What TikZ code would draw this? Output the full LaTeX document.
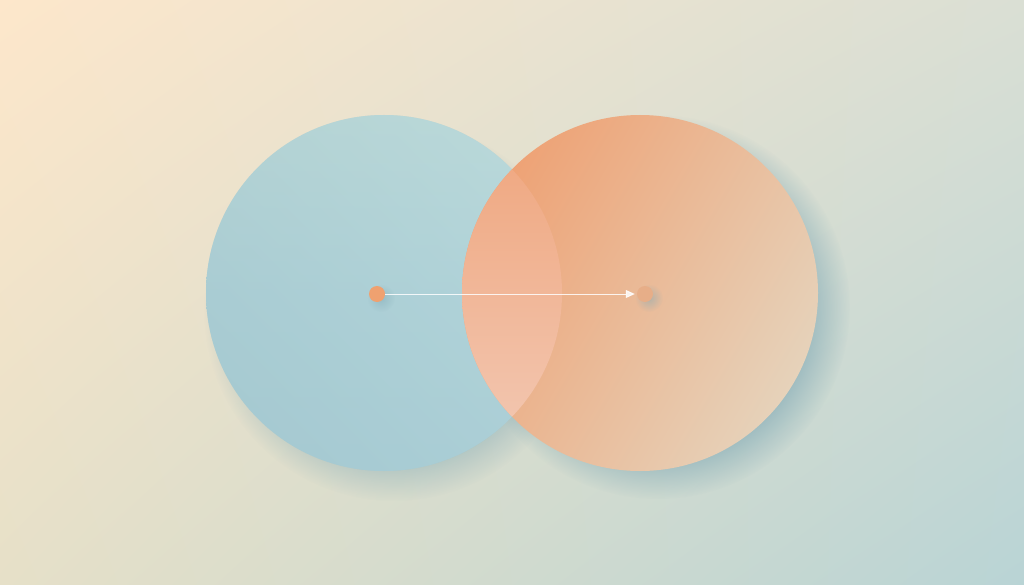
\documentclass[tikz,border=0pt]{standalone}
\usetikzlibrary{arrows.meta,fadings,shadings}

\definecolor{bgtl}{HTML}{FDE7CB}
\definecolor{bgtr}{HTML}{DADFD4}
\definecolor{bgbl}{HTML}{E6E0C8}
\definecolor{bgbr}{HTML}{B9D4D5}
\definecolor{bluetop}{HTML}{B6D0CB}
\definecolor{bluebot}{HTML}{A6CAD2}
\definecolor{bluelit}{HTML}{BDE0E6}
\definecolor{orgtop}{HTML}{EEA275}
\definecolor{orgbot}{HTML}{E6D2BA}
\definecolor{lenstop}{HTML}{EFA47B}
\definecolor{lensbot}{HTML}{F3CAB6}
\definecolor{shadowc}{HTML}{82AAB6}
\definecolor{dotsrc}{HTML}{EFA170}
\definecolor{dotdst}{HTML}{E7AE88}

\tikzfading[name=softdot, inner color=transparent!0, outer color=transparent!100]

\begin{document}
\begin{tikzpicture}[x=1pt,y=-1pt]

\newcommand\R{178}
\newcommand\BX{384}
\newcommand\OX{640}
\newcommand\CY{293}

\useasboundingbox (0,0) rectangle (1024,585);

%% background
\shade[upper left=bgtl, upper right=bgtr, lower left=bgbl, lower right=bgbr]
  (0,0) rectangle (1024,585);

%% soft shadows
\fill[shadowc, opacity=0.45, path fading=circle with fuzzy edge 20 percent]
  (\BX+10, \CY+18) circle (\R+12);
\fill[shadowc, opacity=0.6, path fading=circle with fuzzy edge 20 percent]
  (\OX+18, \CY+14) circle (\R+14);

%% blue disc
\shade[top color=bluetop, bottom color=bluebot, middle color=bluebot!80!bluetop]
  (\BX, \CY) circle (\R);
\shade[left color=bluebot, right color=bluelit, shading angle=135, opacity=0.5]
  (\BX, \CY) circle (\R);

%% orange disc
\shade[left color=orgtop, right color=orgbot, shading angle=60]
  (\OX, \CY) circle (\R);

%% overlap
\begin{scope}
  \clip (\BX, \CY) circle (\R);
  \shade[top color=lenstop, bottom color=lensbot] (\OX, \CY) circle (\R);
\end{scope}

%% centres and arrow
\fill[shadowc, opacity=0.5, path fading=softdot] (\BX-3, \CY+5) circle (14);
\fill[shadowc, opacity=0.5, path fading=softdot] (\OX+9, \CY+5) circle (14);
\node[circle, fill=dotsrc, minimum size=16pt, inner sep=0] (src) at (\BX-7, \CY+1) {};
\node[circle, fill=dotdst, minimum size=16pt, inner sep=0] (dst) at (\OX+5, \CY+1) {};

\draw[white, opacity=0.85, line width=1pt, -{Triangle[length=9pt, width=8pt]}]
  (src) -- ([xshift=-2pt]dst.west);

\end{tikzpicture}
\end{document}
